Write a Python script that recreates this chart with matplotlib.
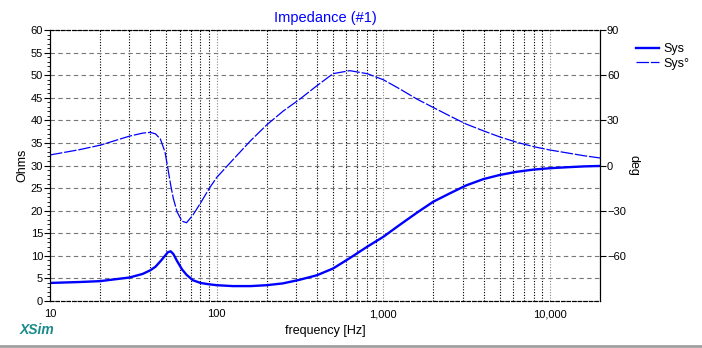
import matplotlib
matplotlib.use("Agg")
import matplotlib.pyplot as plt
from matplotlib.lines import Line2D
from matplotlib.ticker import FixedLocator, NullFormatter, FuncFormatter, MultipleLocator

plt.rcParams['font.family'] = ['Liberation Sans', 'DejaVu Sans']

# frequency points
freq = [10, 15, 20, 30, 36, 40, 43, 46, 49, 51, 53, 55, 58, 62, 66, 72, 80, 90,
        100, 125, 160, 200, 250, 315, 400, 500, 630, 800, 1000, 1250, 1600,
        2000, 2500, 3150, 4000, 5000, 6300, 8000, 10000, 12500, 16000, 20000]

# impedance magnitude (ohms)
mag = [4.0, 4.2, 4.4, 5.2, 6.0, 6.8, 7.6, 8.8, 10.0, 10.8, 11.0, 10.4, 8.8, 7.0,
       5.8, 4.6, 4.0, 3.7, 3.5, 3.3, 3.3, 3.5, 3.9, 4.7, 5.7, 7.2, 9.5, 12.0,
       14.2, 16.8, 19.6, 22.0, 23.8, 25.6, 27.0, 27.9, 28.6, 29.1, 29.4, 29.6,
       29.8, 29.9]

# phase (deg)
phase = [7, 10.5, 13.5, 19.5, 21.5, 22, 21, 17.5, 9, -2, -13, -22, -31, -37,
         -38, -33, -25, -15.5, -8, 3.7, 16.5, 27, 36, 44, 53, 61, 63, 61, 57,
         51, 44, 38.5, 33, 27.5, 23, 19, 15.5, 12.5, 10.3, 8.5, 6.5, 5]

blue = '#0000ff'

fig = plt.figure(figsize=(7.02, 3.48), dpi=100)
ax = fig.add_axes([50 / 702, 1 - 301 / 348, 550 / 702, 271 / 348])
ax2 = ax.twinx()

l1, = ax.plot(freq, mag, color=blue, lw=1.7)
l2, = ax2.plot(freq, phase, color=blue, lw=0.9, linestyle=(0, (10, 1.5)))

ax.set_xscale('log')
ax.set_xlim(10, 20000)
ax.set_ylim(0, 60)
ax2.set_ylim(-90, 90)

ax.xaxis.set_major_locator(FixedLocator([10, 100, 1000, 10000]))
ax.xaxis.set_major_formatter(FuncFormatter(lambda v, p: f'{int(v):,}'))
minors = [m * d for d in [10, 100, 1000] for m in range(2, 10)] + [20000]
ax.xaxis.set_minor_locator(FixedLocator(minors))
ax.xaxis.set_minor_formatter(NullFormatter())

ax.yaxis.set_major_locator(MultipleLocator(5))
ax.yaxis.set_minor_locator(MultipleLocator(1))
ax2.yaxis.set_major_locator(FixedLocator([-60, -30, 0, 30, 60, 90]))

ax.grid(True, which='minor', axis='x', color='black', linestyle=(0, (1, 1.5)), lw=0.8)
ax.grid(True, which='major', axis='x', color='#888888', linestyle=(0, (1, 1.5)), lw=0.8)
ax.grid(True, which='major', axis='y', color='#777777', linestyle=(0, (4, 3)), lw=0.8)

for a in (ax, ax2):
    a.tick_params(labelsize=8, length=4, width=0.8, pad=1)
    a.tick_params(which='minor', length=2)
    a.spines['top'].set_linestyle((0, (3, 2)))
    a.spines['bottom'].set_linestyle((0, (3, 2)))
ax.tick_params(axis='x', which='both', length=0, pad=6)

ax.set_ylabel('Ohms', fontsize=9, labelpad=2)
ax2.set_ylabel('deg', fontsize=9, rotation=270, labelpad=10)
ax.set_xlabel('frequency [Hz]', fontsize=9, labelpad=4)
ax.set_title('Impedance (#1)', color=blue, fontsize=10.5, pad=6)

fig.legend([l1, l2], ['Sys', 'Sys°'], loc='upper left',
           bbox_to_anchor=(625 / 702, 1 - 32 / 348), frameon=False,
           fontsize=9, handlelength=1.8, handletextpad=0.4, labelspacing=0.2)

fig.text(20 / 702, 1 - 330 / 348, 'XSim', color='#1a8a8a', fontsize=10,
         fontweight='bold', fontstyle='italic', va='center')
fig.add_artist(Line2D([0, 1], [2.5 / 348, 2.5 / 348], color='#a0a0a0', lw=2))

fig.savefig('out.png', dpi=100)
